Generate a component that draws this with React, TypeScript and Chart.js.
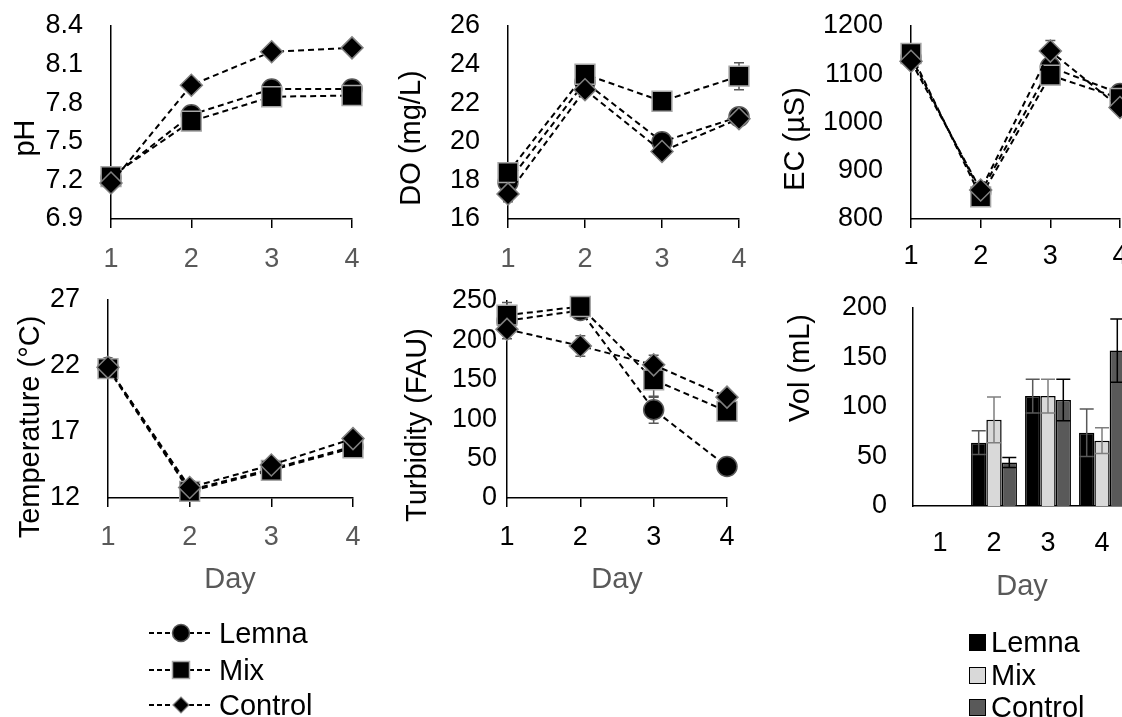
import React, { useEffect, useRef } from 'react';
import { Chart, registerables } from 'chart.js';

Chart.register(...registerables);

const FONT = '"Liberation Sans", Arial, sans-serif';
Chart.defaults.font.family = FONT;

// ---------- data ----------
const days = ['1', '2', '3', '4'];
const seriesNames = ['Lemna', 'Mix', 'Control'];

const phTicks = [6.9, 7.2, 7.5, 7.8, 8.1, 8.4];
const phLemna = [7.22, 7.71, 7.91, 7.91];
const phMix = [7.23, 7.66, 7.85, 7.86];
const phControl = [7.18, 7.94, 8.2, 8.23];
const phLemnaErr = [0, 0, 0, 0];
const phMixErr = [0, 0, 0, 0];
const phControlErr = [0, 0, 0, 0];

const doTicks = [16, 18, 20, 22, 24, 26];
const doLemna = [17.9, 23.1, 20.0, 21.3];
const doMix = [18.4, 23.5, 22.1, 23.4];
const doControl = [17.3, 22.7, 19.5, 21.2];
const doLemnaErr = [0, 0, 0, 0];
const doMixErr = [0, 0, 0, 0.7];
const doControlErr = [0.4, 0, 0, 0];

const ecTicks = [800, 900, 1000, 1100, 1200];
const ecLemna = [1135, 855, 1115, 1060];
const ecMix = [1143, 846, 1098, 1050];
const ecControl = [1127, 860, 1148, 1031];
const ecLemnaErr = [0, 0, 10, 0];
const ecMixErr = [0, 0, 0, 0];
const ecControlErr = [0, 0, 22, 0];

const tempTicks = [12, 17, 22, 27];
const tempLemna = [21.9, 12.6, 14.2, 15.9];
const tempMix = [21.8, 12.5, 14.1, 15.8];
const tempControl = [21.9, 12.8, 14.5, 16.5];
const tempLemnaErr = [0, 0, 0, 0];
const tempMixErr = [0, 0, 0, 0];
const tempControlErr = [0, 0, 0, 0];

const turbTicks = [0, 50, 100, 150, 200, 250];
const turbLemna = [225, 238, 112, 40];
const turbMix = [232, 243, 150, 110];
const turbControl = [214, 193, 169, 128];
const turbLemnaErr = [0, 0, 17, 0];
const turbMixErr = [16, 0, 22, 0];
const turbControlErr = [12, 13, 12, 0];

const volTicks = [0, 50, 100, 150, 200];
const volLemna = [0, 64, 111, 74];
const volMix = [0, 87, 111, 66];
const volControl = [0, 44, 107, 157];
const volLemnaErr = [0, 12, 17, 24];
const volMixErr = [0, 23, 17, 13];
const volControlErr = [0, 5, 21, 32];

// ---------- styling ----------
const lineStyles = [
  { pointStyle: 'circle', radius: 10, border: '#595959', order: 2 },
  { pointStyle: 'rect', radius: 14, border: '#a6a6a6', order: 1 },
  { pointStyle: 'rectRot', radius: 11, border: '#808080', order: 0 },
];
const barFill = ['#000000', '#d9d9d9', '#595959'];
const barErrColor = ['#595959', '#7f7f7f', '#000000'];
const GRAY = '#595959';

type Series = { data: number[]; err: number[] };
type PanelDef = {
  kind: 'line' | 'bar';
  left: number; top: number; width: number; height: number;
  plotLeft: number; plotRight: number; plotTop: number; plotBottom: number;
  yMin: number; yMax: number; yTicks: number[]; decimals: number;
  yGap: number; xColor: string; xPad: number; xTickLen: number;
  series: Series[];
};

const TOP_ROW = { top: -30, height: 315 };
const BOT_ROW = { top: 240, height: 360 };

const panels: PanelDef[] = [
  {
    kind: 'line', left: 0, width: 400, ...TOP_ROW,
    plotLeft: 111, plotRight: 352, plotTop: 26, plotBottom: 219,
    yMin: 6.9, yMax: 8.4, yTicks: phTicks, decimals: 1, yGap: 28, xColor: GRAY, xPad: 15, xTickLen: 9,
    series: [{ data: phLemna, err: phLemnaErr }, { data: phMix, err: phMixErr }, { data: phControl, err: phControlErr }],
  },
  {
    kind: 'line', left: 370, width: 410, ...TOP_ROW,
    plotLeft: 508, plotRight: 739, plotTop: 26, plotBottom: 219,
    yMin: 16, yMax: 26, yTicks: doTicks, decimals: 0, yGap: 28, xColor: GRAY, xPad: 15, xTickLen: 9,
    series: [{ data: doLemna, err: doLemnaErr }, { data: doMix, err: doMixErr }, { data: doControl, err: doControlErr }],
  },
  {
    kind: 'line', left: 750, width: 420, ...TOP_ROW,
    plotLeft: 911, plotRight: 1120, plotTop: 26, plotBottom: 219,
    yMin: 800, yMax: 1200, yTicks: ecTicks, decimals: 0, yGap: 28, xColor: '#000', xPad: 12, xTickLen: 9,
    series: [{ data: ecLemna, err: ecLemnaErr }, { data: ecMix, err: ecMixErr }, { data: ecControl, err: ecControlErr }],
  },
  {
    kind: 'line', left: 0, width: 400, ...BOT_ROW,
    plotLeft: 108, plotRight: 353, plotTop: 300, plotBottom: 498,
    yMin: 12, yMax: 27, yTicks: tempTicks, decimals: 0, yGap: 28, xColor: GRAY, xPad: 14, xTickLen: 9,
    series: [{ data: tempLemna, err: tempLemnaErr }, { data: tempMix, err: tempMixErr }, { data: tempControl, err: tempControlErr }],
  },
  {
    kind: 'line', left: 370, width: 410, ...BOT_ROW,
    plotLeft: 507, plotRight: 727, plotTop: 301, plotBottom: 498,
    yMin: 0, yMax: 250, yTicks: turbTicks, decimals: 0, yGap: 10, xColor: '#000', xPad: 14, xTickLen: 9,
    series: [{ data: turbLemna, err: turbLemnaErr }, { data: turbMix, err: turbMixErr }, { data: turbControl, err: turbControlErr }],
  },
  {
    kind: 'bar', left: 750, width: 420, ...BOT_ROW,
    plotLeft: 913, plotRight: 1129, plotTop: 308, plotBottom: 506,
    yMin: 0, yMax: 200, yTicks: volTicks, decimals: 0, yGap: 26, xColor: '#000', xPad: 21, xTickLen: 0,
    series: [{ data: volLemna, err: volLemnaErr }, { data: volMix, err: volMixErr }, { data: volControl, err: volControlErr }],
  },
];

const axisTitles = [
  { text: 'pH', x: 24, y: 138, rotate: true, color: '#000' },
  { text: 'DO (mg/L)', x: 410, y: 138, rotate: true, color: '#000' },
  { text: 'EC (µS)', x: 794, y: 139, rotate: true, color: '#000' },
  { text: 'Temperature (°C)', x: 29, y: 427, rotate: true, color: '#000' },
  { text: 'Turbidity (FAU)', x: 416, y: 425, rotate: true, color: '#000' },
  { text: 'Vol (mL)', x: 799, y: 368, rotate: true, color: '#000' },
  { text: 'Day', x: 230, y: 578, rotate: false, color: GRAY },
  { text: 'Day', x: 617, y: 578, rotate: false, color: GRAY },
  { text: 'Day', x: 1022, y: 585, rotate: false, color: GRAY },
];

function makeErrorPlugin(p: PanelDef) {
  const draw = (chart: any) => {
    const ctx = chart.ctx;
    const yScale = chart.scales.y;
    const cap = p.kind === 'bar' ? 7 : 5;
    p.series.forEach((s, di) => {
      const meta = chart.getDatasetMeta(di);
      s.err.forEach((e, i) => {
        if (!e) return;
        const el = meta.data[i];
        if (!el) return;
        const x = el.x;
        const yT = yScale.getPixelForValue(s.data[i] + e);
        const yB = yScale.getPixelForValue(s.data[i] - e);
        ctx.save();
        ctx.strokeStyle = p.kind === 'bar' ? barErrColor[di] : '#595959';
        ctx.lineWidth = 1.5;
        ctx.beginPath();
        ctx.moveTo(x, yT); ctx.lineTo(x, yB);
        ctx.moveTo(x - cap, yT); ctx.lineTo(x + cap, yT);
        ctx.moveTo(x - cap, yB); ctx.lineTo(x + cap, yB);
        ctx.stroke();
        ctx.restore();
      });
    });
  };
  return {
    id: 'errbars',
    beforeDatasetsDraw(chart: any) { if (p.kind === 'line') draw(chart); },
    afterDatasetsDraw(chart: any) { if (p.kind === 'bar') draw(chart); },
  };
}

function buildConfig(p: PanelDef): any {
  const datasets = p.series.map((s, i) => {
    if (p.kind === 'bar') {
      return {
        label: seriesNames[i], data: s.data,
        backgroundColor: barFill[i], borderColor: '#000', borderWidth: 1.5,
        categoryPercentage: 0.85, barPercentage: 1, clip: false,
      };
    }
    const st = lineStyles[i];
    return {
      label: seriesNames[i], data: s.data, order: st.order,
      borderColor: '#000', borderWidth: 2, borderDash: [6, 4], tension: 0, fill: false,
      pointStyle: st.pointStyle, pointRadius: st.radius,
      pointBackgroundColor: '#000', pointBorderColor: st.border, pointBorderWidth: 1.5,
      clip: false,
    };
  });
  return {
    type: p.kind,
    data: { labels: days, datasets },
    options: {
      responsive: false,
      animation: false,
      devicePixelRatio: 1,
      events: [],
      layout: {
        padding: { left: 0, bottom: 0, top: p.plotTop - p.top, right: p.left + p.width - p.plotRight },
      },
      plugins: { legend: { display: false }, tooltip: { enabled: false }, title: { display: false } },
      scales: {
        x: {
          type: 'category',
          offset: p.kind === 'bar',
          grid: {
            display: p.kind === 'line', drawOnChartArea: false, drawTicks: p.kind === 'line',
            tickLength: p.xTickLen, color: '#000', lineWidth: 1.5,
          },
          border: { display: true, color: '#000', width: 1.5 },
          ticks: { color: p.xColor, font: { size: 27, family: FONT }, padding: p.xPad, maxRotation: 0, autoSkip: false },
          afterFit: (s: any) => { s.height = p.top + p.height - p.plotBottom; },
        },
        y: {
          type: 'linear',
          min: p.yMin, max: p.yMax,
          grid: { display: false, drawTicks: false },
          border: { display: true, color: '#000', width: 1.5 },
          ticks: {
            color: '#000', font: { size: 27, family: FONT }, padding: p.yGap, autoSkip: false,
            callback: (v: any) => Number(v).toFixed(p.decimals),
          },
          afterBuildTicks: (s: any) => { s.ticks = p.yTicks.map((v) => ({ value: v })); },
          afterFit: (s: any) => { s.width = p.plotLeft - p.left; },
        },
      },
    },
    plugins: [makeErrorPlugin(p)],
  };
}

function Panel({ p }: { p: PanelDef }) {
  const ref = useRef<HTMLCanvasElement | null>(null);
  useEffect(() => {
    if (!ref.current) return;
    const chart = new Chart(ref.current, buildConfig(p));
    return () => chart.destroy();
  }, [p]);
  return (
    <canvas
      ref={ref}
      width={p.width}
      height={p.height}
      style={{ position: 'absolute', left: p.left, top: p.top, width: p.width, height: p.height }}
    />
  );
}

function TextLabel({ t }: { t: { text: string; x: number; y: number; rotate: boolean; color: string } }) {
  return (
    <div
      style={{
        position: 'absolute', left: t.x, top: t.y, whiteSpace: 'nowrap',
        transform: `translate(-50%, -50%)${t.rotate ? ' rotate(-90deg)' : ''}`,
        fontFamily: FONT, fontSize: 29, lineHeight: 1, color: t.color,
      }}
    >
      {t.text}
    </div>
  );
}

function LineMarker({ idx }: { idx: number }) {
  const cx = 33, cy = 12;
  let marker: any;
  if (idx === 0) marker = <circle cx={cx} cy={cy} r={8.5} fill="#000" stroke="#595959" strokeWidth={1.5} />;
  else if (idx === 1) marker = <rect x={cx - 8.5} y={cy - 8.5} width={17} height={17} fill="#000" stroke="#a6a6a6" strokeWidth={1.5} />;
  else marker = <polygon points={`${cx - 8},${cy} ${cx},${cy - 8} ${cx + 8},${cy} ${cx},${cy + 8}`} fill="#000" stroke="#808080" strokeWidth={1.2} />;
  return (
    <svg width={66} height={24} style={{ display: 'block' }}>
      <line x1={1} y1={cy} x2={65} y2={cy} stroke="#000" strokeWidth={1.8} strokeDasharray="5,3" />
      {marker}
    </svg>
  );
}

const lineLegendY = [633, 670, 705];
const barLegendY = [642, 675, 707];

export default function App() {
  return (
    <div
      style={{
        position: 'fixed', left: 0, top: 0, width: 1122, height: 717, overflow: 'hidden',
        background: '#fff', fontFamily: FONT,
      }}
    >
      {panels.map((p, i) => <Panel key={i} p={p} />)}
      {axisTitles.map((t, i) => <TextLabel key={'t' + i} t={t} />)}
      {seriesNames.map((name, i) => (
        <React.Fragment key={'ll' + i}>
          <div style={{ position: 'absolute', left: 148, top: lineLegendY[i] - 12 }}>
            <LineMarker idx={i} />
          </div>
          <div style={{ position: 'absolute', left: 219, top: lineLegendY[i], transform: 'translateY(-50%)', fontSize: 29, lineHeight: 1, color: '#000', whiteSpace: 'nowrap' }}>
            {name}
          </div>
        </React.Fragment>
      ))}
      {seriesNames.map((name, i) => (
        <React.Fragment key={'bl' + i}>
          <div style={{ position: 'absolute', left: 969, top: barLegendY[i] - 8.5, width: 15, height: 15, background: barFill[i], border: '1.2px solid #000' }} />
          <div style={{ position: 'absolute', left: 991, top: barLegendY[i], transform: 'translateY(-50%)', fontSize: 29, lineHeight: 1, color: '#000', whiteSpace: 'nowrap' }}>
            {name}
          </div>
        </React.Fragment>
      ))}
    </div>
  );
}
